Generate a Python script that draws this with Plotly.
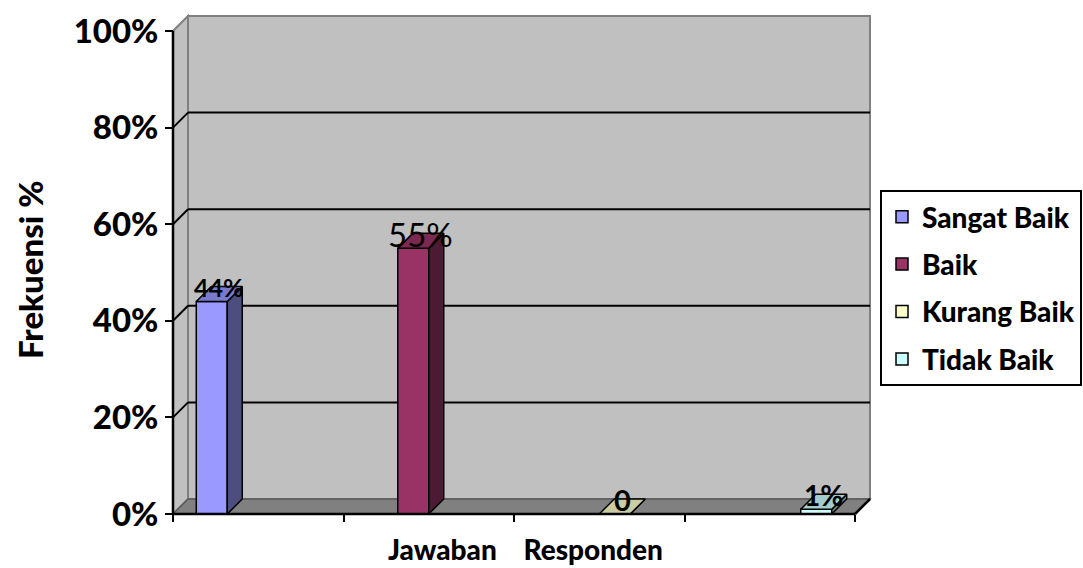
import plotly.graph_objects as go

# Response options, one slot each along the x axis
slots = [0, 1, 2, 3]
series_names = ["Sangat Baik", "Baik", "Kurang Baik", "Tidak Baik"]
values = [44, 55, 0, 1]
label_texts = ["44%", "55%", "0", "1%"]
label_sizes = [25, 33, 29, 28]
label_weights = ["bold", "normal", "bold", "bold"]
y_ticks = [0, 20, 40, 60, 80, 100]
y_tick_text = ["0%", "20%", "40%", "60%", "80%", "100%"]
x_bounds = [-0.5, 0.5, 1.5, 2.5, 3.5]

front_colors = ["#9999FF", "#993366", "#FFFFCC", "#CCFFFF"]
top_colors = ["#7A7ACC", "#7A2952", "#CCCCA3", "#A3CCCC"]
side_colors = ["#4D4D80", "#4D1A33", "#80806B", "#668080"]

FONT = "Lato"
HEAVY = 900
BARGAP = 0.273
# depth of the pseudo-3D box, in axis units
DX = 15 / 170.5
DY = 15 / 4.83
X_RANGE = [-0.5 - 10 / 170.5, -0.5 + 707 / 170.5]
Y_RANGE = [-10 / 4.83, 506 / 4.83]

fig = go.Figure()

n = len(series_names)
group_w = 1 - BARGAP
bar_w = group_w / n

for i, name in enumerate(series_names):
    yv = [values[i] if j == i else None for j in range(len(slots))]
    fig.add_trace(go.Bar(
        x=slots, y=yv, name=name, legendgroup=name,
        marker=dict(color=front_colors[i], line=dict(color="black", width=1.5)),
        hoverinfo="skip",
    ))

# top and side faces of each column
for i, name in enumerate(series_names):
    c = slots[i]
    v = values[i]
    left = c - group_w / 2 + i * bar_w
    right = left + bar_w
    fig.add_trace(go.Scatter(
        x=[right, right + DX, right + DX, right, right],
        y=[0, DY, v + DY, v, 0],
        fill="toself", fillcolor=side_colors[i], mode="lines",
        line=dict(color="black", width=1.5), showlegend=False,
        legendgroup=name, hoverinfo="skip",
    ))
    fig.add_trace(go.Scatter(
        x=[left, left + DX, right + DX, right, left],
        y=[v, v + DY, v + DY, v, v],
        fill="toself", fillcolor=top_colors[i], mode="lines",
        line=dict(color="black", width=1.5), showlegend=False,
        legendgroup=name, hoverinfo="skip",
    ))
    fig.add_annotation(
        x=(left + right) / 2 + DX / 2, y=v + DY / 2, yshift=7,
        text=label_texts[i], showarrow=False,
        font=dict(family=FONT, size=label_sizes[i], color="black",
                  weight=label_weights[i]),
    )

x0, x1 = x_bounds[0], x_bounds[-1]
shapes = [
    # back wall
    dict(type="rect", xref="x", yref="y", x0=x0 + DX, x1=x1 + DX, y0=DY, y1=100 + DY,
         fillcolor="#C0C0C0", line=dict(color="#808080", width=2), layer="below"),
    # left wall
    dict(type="path", xref="x", yref="y",
         path=f"M {x0},0 L {x0 + DX},{DY} L {x0 + DX},{100 + DY} L {x0},100 Z",
         fillcolor="#C0C0C0", line=dict(color="#808080", width=2), layer="below"),
    # floor
    dict(type="path", xref="x", yref="y",
         path=f"M {x0},0 L {x1},0 L {x1 + DX},{DY} L {x0 + DX},{DY} Z",
         fillcolor="#808080", line=dict(color="#5A5A5A", width=1.5), layer="below"),
]
for t in y_ticks[1:-1]:
    shapes.append(dict(type="line", xref="x", yref="y", x0=x0 + DX, x1=x1 + DX,
                       y0=t + DY, y1=t + DY, line=dict(color="black", width=2), layer="below"))
    shapes.append(dict(type="line", xref="x", yref="y", x0=x0, x1=x0 + DX,
                       y0=t, y1=t + DY, line=dict(color="black", width=2), layer="below"))
# axis lines
shapes += [
    dict(type="line", xref="x", yref="y", x0=x0, x1=x0, y0=0, y1=100,
         line=dict(color="black", width=2.5)),
    dict(type="line", xref="x", yref="y", x0=x0, x1=x1, y0=0, y1=0,
         line=dict(color="black", width=2.5)),
    dict(type="line", xref="x", yref="y", x0=x1, x1=x1 + DX, y0=0, y1=DY,
         line=dict(color="black", width=2.5)),
]

fig.add_annotation(
    text="Frekuensi %", xref="paper", yref="paper", x=(30 - 163) / 717, y=(524 - 270) / 516,
    xanchor="center", yanchor="middle",
    textangle=-90, showarrow=False,
    font=dict(family=FONT, size=33, color="black", weight=HEAVY),
)
fig.add_annotation(
    text="Jawaban\u00a0\u00a0\u00a0\u00a0Responden", xref="paper", yref="paper",
    x=(525 - 163) / 717, y=(524 - 549) / 516, xanchor="center", yanchor="middle",
    showarrow=False,
    font=dict(family=FONT, size=28, color="black", weight=HEAVY),
)

fig.update_layout(
    width=1083, height=568,
    margin=dict(l=163, r=203, t=8, b=44, autoexpand=False),
    paper_bgcolor="white", plot_bgcolor="white",
    barmode="group", bargap=BARGAP, bargroupgap=0,
    shapes=shapes,
    showlegend=True,
    legend=dict(
        x=1.0, xanchor="left", y=(524 - 288) / 516, yanchor="middle",
        bordercolor="black", borderwidth=2, bgcolor="white",
        font=dict(family=FONT, size=28, color="black", weight=HEAVY),
        tracegroupgap=8, itemwidth=30,
    ),
    xaxis=dict(
        range=X_RANGE, anchor="free", position=10 / 516,
        tickvals=x_bounds, showticklabels=False, ticks="outside",
        ticklen=7, tickwidth=2, tickcolor="black",
        showgrid=False, zeroline=False, showline=False, automargin=False,
        fixedrange=True,
    ),
    yaxis=dict(
        range=Y_RANGE, anchor="free", position=10 / 717,
        tickvals=y_ticks, ticktext=y_tick_text, ticks="outside",
        ticklen=8, tickwidth=2, tickcolor="black",
        tickfont=dict(family=FONT, size=33, color="black", weight=HEAVY),
        showgrid=False, zeroline=False, showline=False, automargin=False,
        fixedrange=True,
    ),
)

fig.write_html("out.html")
